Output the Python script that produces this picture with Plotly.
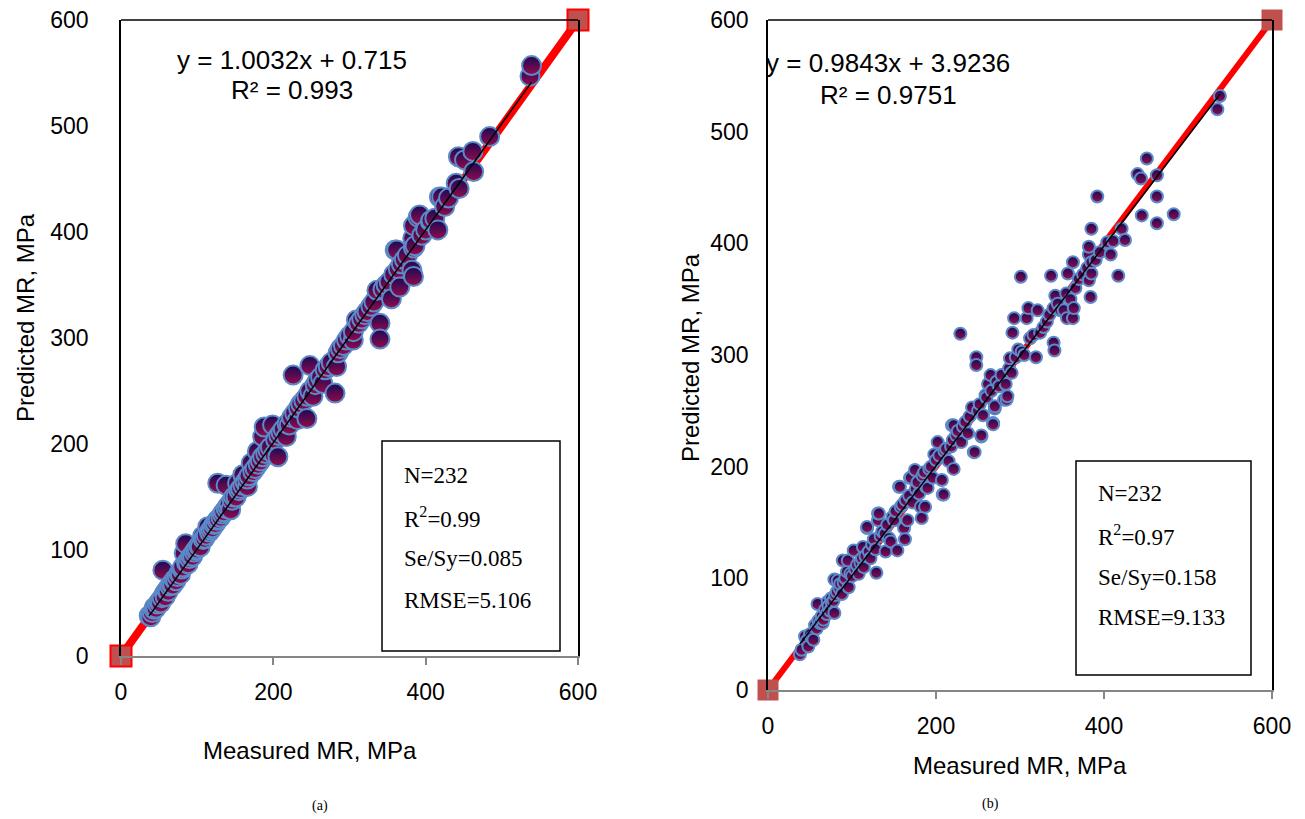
import plotly.graph_objects as go

W, H = 1305, 819
OFF = 8  # page body margin of the viewer

# ---------------- data ----------------
measured_a = [37,39,41,43,44,46,48,50,52,54,55,57,58,60,62,64,66,68,70,72,74,76,78,80,81,83,85,86,88,90,92,94,96,98,100,102,104,107,108,110,112,114,116,118,120,122,124,127,126,128,131,133,135,138,138,140,142,144,146,148,151,153,155,157,160,160,163,166,166,168,171,173,176,179,180,183,186,186,188,190,193,196,199,201,203,206,207,210,213,217,218,221,224,226,228,232,233,236,240,244,244,248,248,252,255,258,262,265,268,272,276,281,283,285,288,292,296,300,305,305,309,312,316,320,323,328,332,336,340,340,344,348,352,355,358,360,362,364,366,368,372,376,382,384,384,383,384,384,386,390,392,395,400,406,407,412,416,418,421,425,430,440,443,444,451,462,463,484,537,539]
predicted_a = [38,37,41,44,46,45,49,51,50,55,81,59,56,62,61,66,68,67,72,71,75,78,77,82,84,97,106,88,87,92,94,94,98,100,101,104,103,113,110,111,114,122,117,119,121,124,125,163,128,129,131,134,136,161,139,141,143,138,147,150,150,163,156,158,171,161,164,160,167,170,182,174,177,193,181,184,207,188,216,191,194,197,218,190,204,188,208,211,214,207,219,218,225,265,229,223,234,238,241,224,245,274,250,245,256,260,263,257,270,273,277,248,273,286,290,293,298,302,298,306,317,314,318,322,325,330,334,345,314,299,346,350,353,337,360,383,383,365,348,370,374,378,364,358,392,394,385,406,387,414,416,397,402,410,411,413,402,433,433,424,432,446,471,441,468,476,457,490,547,557]

measured_b = [38,40,44,46,48,50,52,54,56,58,59,60,62,64,65,66,68,70,71,72,74,75,76,78,79,79,80,82,83,85,86,88,89,90,92,94,95,96,98,100,102,104,106,108,110,112,113,114,116,118,118,120,122,124,126,128,129,131,131,132,134,136,139,140,142,144,146,148,150,152,154,156,157,158,160,162,163,164,166,168,169,170,172,175,176,178,180,182,183,184,186,187,188,190,192,194,196,198,200,202,204,207,208,209,210,212,215,218,219,220,221,221,224,226,229,230,232,235,238,240,243,245,246,248,248,250,252,254,254,256,259,260,262,265,266,268,268,270,270,272,275,278,281,283,284,285,287,288,290,291,293,295,298,301,302,305,308,310,312,316,319,321,324,328,332,335,337,340,340,341,342,345,348,352,355,356,357,360,363,363,364,366,370,375,380,382,382,382,384,385,385,385,390,392,395,404,408,411,417,421,425,440,444,445,451,463,463,463,483,535,538]
predicted_b = [32,36,48,44,39,50,47,45,58,55,77,62,60,66,60,63,72,68,79,75,71,82,78,80,69,99,85,88,98,91,95,86,116,96,100,106,116,92,104,102,125,108,112,104,114,118,128,110,120,145,146,124,118,130,135,126,105,152,158,158,138,142,140,124,148,136,133,155,152,160,125,182,182,164,166,145,135,170,152,174,190,190,168,197,180,186,176,164,154,192,195,164,182,181,198,200,190,211,206,222,210,188,175,175,214,216,205,218,237,224,198,237,228,232,319,222,236,240,230,245,253,213,213,298,291,250,256,227,228,246,264,262,274,282,268,239,238,252,254,276,272,282,260,274,260,263,288,297,284,320,333,298,305,370,303,300,333,342,315,318,298,340,320,325,330,336,371,342,311,304,353,346,340,340,355,333,373,350,383,333,342,360,368,372,378,367,390,397,352,373,383,413,385,442,392,401,390,402,371,413,403,462,458,425,476,461,442,418,426,520,532]

line_11 = [0, 600]
fit_a = (1.0032, 0.715)
fit_b = (0.9843, 3.9236)
ticks = [0, 100, 200, 300, 400, 500, 600]
xticks = [0, 200, 400, 600]

# ---------------- layout geometry (pixels) ----------------
def px(x):
    return (x - OFF) / W

def py(y):
    return 1 - (y - OFF) / H

A = dict(x0=121, x1=578, y0=656, y1=20)
B = dict(x0=768, x1=1272, y0=690, y1=20)

fig = go.Figure()

def add_panel(xa, ya, meas, pred, fit, msize, lw, sqsize, sqline):
    # 1:1 red line with square ends
    fig.add_trace(go.Scatter(
        x=line_11, y=line_11, mode="lines+markers", xaxis=xa, yaxis=ya,
        line=dict(color="#FF0000", width=lw),
        marker=dict(symbol="square", size=sqsize, color="#C0504D",
                    line=dict(color="#FF0000" if sqline else "#C0504D", width=2)),
        cliponaxis=False, showlegend=False, hoverinfo="skip"))
    # data points
    fig.add_trace(go.Scatter(
        x=meas, y=pred, mode="markers", xaxis=xa, yaxis=ya,
        marker=dict(size=msize, color="#1A0A55",
                    gradient=dict(type="vertical", color="#960A4A"),
                    line=dict(color="#5B8BC8", width=2)),
        cliponaxis=False, showlegend=False))
    # trend line
    xmin, xmax = min(meas), max(meas)
    fig.add_trace(go.Scatter(
        x=[xmin, xmax], y=[fit[0] * xmin + fit[1], fit[0] * xmax + fit[1]],
        mode="lines", xaxis=xa, yaxis=ya,
        line=dict(color="black", width=1.5), showlegend=False))

add_panel("x", "y", measured_a, predicted_a, fit_a, 19, 8, 21, True)
add_panel("x2", "y2", measured_b, predicted_b, fit_b, 12, 6, 19, False)

tickfont = dict(family="Liberation Sans, Arial", size=23, color="black")

def xaxis(dom, anchor):
    return dict(domain=dom, range=[0, 600], anchor=anchor, tickvals=xticks,
                showgrid=False, zeroline=False, showline=True, linecolor="#868686",
                linewidth=1.5, ticks="outside", ticklen=7, tickcolor="#868686",
                tickwidth=1.5, tickfont=tickfont, ticklabelstandoff=8,
                ticklabeloverflow="allow", automargin=False)

def yaxis(dom, anchor, standoff):
    return dict(domain=dom, range=[0, 600], anchor=anchor, tickvals=ticks,
                showgrid=False, zeroline=False, showline=True, linecolor="black",
                linewidth=1.5, mirror=True, ticks="", tickfont=tickfont,
                ticklabelstandoff=standoff, ticklabeloverflow="allow",
                automargin=False)

fig.update_layout(
    width=W, height=H, margin=dict(l=0, r=0, t=0, b=0, autoexpand=False),
    paper_bgcolor="white", plot_bgcolor="white",
    xaxis=xaxis([px(A["x0"]), px(A["x1"])], "y"),
    yaxis=yaxis([py(A["y0"]), py(A["y1"])], "x", 26),
    xaxis2=xaxis([px(B["x0"]), px(B["x1"])], "y2"),
    yaxis2=yaxis([py(B["y0"]), py(B["y1"])], "x2", 13),
)

shapes = []
for P in (A, B):
    shapes.append(dict(type="line", xref="paper", yref="paper",
                       x0=px(P["x0"]), x1=px(P["x1"]), y0=py(P["y1"]), y1=py(P["y1"]),
                       line=dict(color="black", width=1.5)))
# stats boxes
shapes.append(dict(type="rect", xref="paper", yref="paper",
                   x0=px(382), x1=px(560), y0=py(651), y1=py(441),
                   line=dict(color="black", width=1.5)))
shapes.append(dict(type="rect", xref="paper", yref="paper",
                   x0=px(1076), x1=px(1251), y0=py(675), y1=py(461),
                   line=dict(color="black", width=1.5)))
fig.update_layout(shapes=shapes)

ann = []
def add_text(text, x, y, size, family="Liberation Sans, Arial", xanchor="center", angle=0):
    ann.append(dict(text=text, x=px(x), y=py(y), xref="paper", yref="paper",
                    showarrow=False, xanchor=xanchor, yanchor="middle",
                    textangle=angle, font=dict(family=family, size=size, color="black")))

# equations
add_text("y = 1.0032x + 0.715", 292, 60, 26)
add_text("R² = 0.993", 292, 90, 26)
add_text("y = 0.9843x + 3.9236", 888, 63, 26)
add_text("R² = 0.9751", 888, 95, 26)

serif = "Liberation Serif, Times New Roman"
stats_a = ["N=232", "R<sup>2</sup>=0.99", "Se/Sy=0.085", "RMSE=5.106"]
stats_b = ["N=232", "R<sup>2</sup>=0.97", "Se/Sy=0.158", "RMSE=9.133"]
for t, y in zip(stats_a, [475, 517, 558, 600]):
    add_text(t, 402, y, 23, serif, "left")
for t, y in zip(stats_b, [493, 535, 577, 617]):
    add_text(t, 1096, y, 23, serif, "left")

# axis titles
add_text("Predicted MR, MPa", 25, 318, 24, angle=-90)
add_text("Predicted MR, MPa", 690, 357, 24, angle=-90)
add_text("Measured MR, MPa", 310, 750, 24)
add_text("Measured MR, MPa", 1020, 765, 24)
add_text("(a)", 320, 806, 14, serif)
add_text("(b)", 990, 804, 14, serif)

fig.update_layout(annotations=ann)

fig.write_html("out.html")
